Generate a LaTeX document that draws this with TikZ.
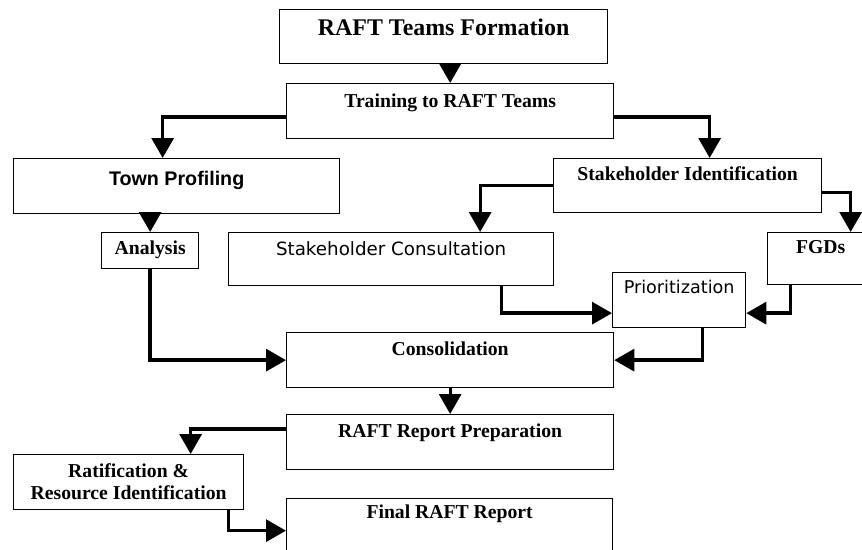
\documentclass[tikz,border=0pt]{standalone}
\usepackage{fontspec}
\setmainfont{Liberation Serif}
\newfontfamily\gothic{DejaVu Sans}
\newfontfamily\arialb{Liberation Sans}
\usetikzlibrary{arrows.meta}
\newlength\px
\setlength\px{0.025cm}
\tikzset{
  blk/.style n args={3}{draw, line width=1.3\px, anchor=north west, inner sep=0pt,
    minimum width=#1\px, text height=#2\px, text depth=#3\px,
    font=\fontsize{14}{17}\selectfont\bfseries},
  flow/.style={line width=2.35pt, -{Triangle[length=14.2pt,width=15.6pt]}},
}
\begin{document}
\begin{tikzpicture}[x=0.025cm,y=-0.025cm]
\fill[white] (0,0) rectangle (862,550);
\useasboundingbox (0,0) rectangle (862,550);
\clip (0,0) rectangle (862,550);
% boxes
\node[blk={328}{26}{28}, font=\fontsize{17}{20}\selectfont\bfseries] (form) at (279,9) {RAFT Teams Formation};
\node[blk={327}{24}{31}] (train) at (286,83) {Training to RAFT Teams};
\node[blk={326}{27}{28}, font=\arialb\fontsize{14}{17}\selectfont\bfseries] (town) at (13,158) {Town Profiling};
\node[blk={268}{22}{32}] (si) at (553,158) {Stakeholder Identification};
\node[blk={97}{22}{14}] (ana) at (101,232) {Analysis};
\node[blk={325}{23}{30}, font=\gothic\fontsize{13}{16}\selectfont] (sc) at (228,232) {Stakeholder Consultation};
\node[blk={106}{21}{31}] (fgd) at (767,232) {FGDs};
\node[blk={133}{21}{34}, font=\gothic\fontsize{12.5}{15}\selectfont] (prio) at (612,272) {Prioritization};
\node[blk={327}{23}{32}] (cons) at (286,332) {Consolidation};
\node[blk={327}{23}{32}] (rrp) at (286,414) {RAFT Report Preparation};
\node[draw, line width=1.3\px, anchor=north west, inner sep=0pt, minimum width=230\px, minimum height=55\px,
  align=center, font=\fontsize{14}{15.6}\selectfont\bfseries] (rat) at (13,454) {Ratification \&\\Resource Identification};
\node[blk={326}{20}{44}] (fin) at (286,498) {Final RAFT Report};
% arrows
\draw[flow] (train.north |- form.south) -- (train.north);
\draw[flow] ([yshift=-6\px]train.west) -| ([xshift=-14\px]town.north);
\draw[flow] ([yshift=-6\px]train.east) -| ([xshift=22\px]si.north);
\draw[flow] (ana.north |- town.south) -- (ana.north);
\draw[flow] (si.west) -| ([xshift=89\px]sc.north);
\draw[flow] ([yshift=-7\px]si.east) -| ([xshift=30\px]fgd.north);
\draw[flow] ([xshift=110\px]sc.south) |- ([yshift=-13\px]prio.west);
\draw[flow] ([xshift=-30\px]fgd.south) |- ([yshift=-13\px]prio.east);
\draw[flow] (ana.south) |- (cons.west);
\fill (ana.south |- cons.west) circle (2\px);
\draw[flow] ([xshift=23\px]prio.south) |- (cons.east);
\draw[flow] (cons.south) -- (rrp.north);
\draw[flow] ([yshift=13\px]rrp.west) -| ([xshift=62\px]rat.north);
\draw[flow] ([xshift=100\px]rat.south) |- (fin.west);
\end{tikzpicture}
\end{document}
